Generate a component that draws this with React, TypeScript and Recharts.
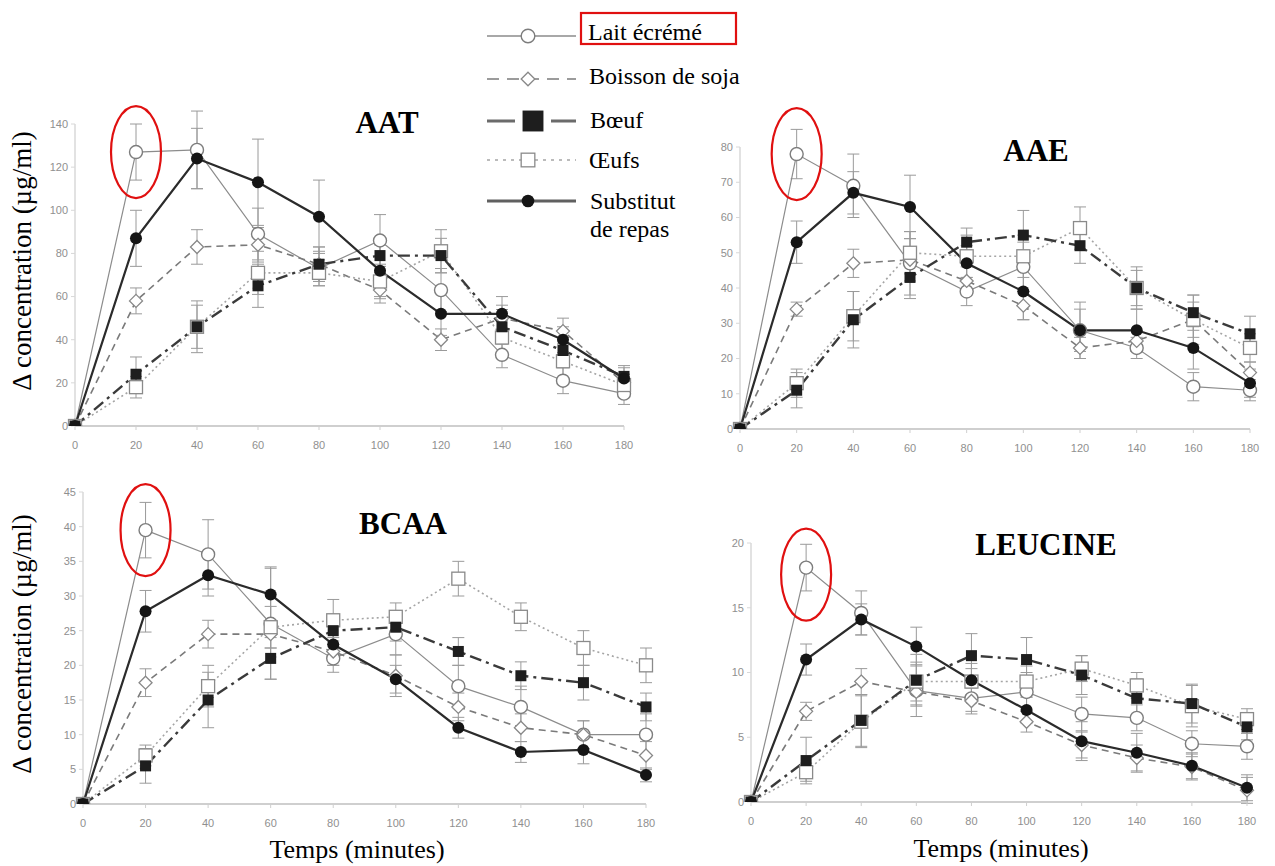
import React from 'react';
import { LineChart, Line, XAxis, YAxis, ErrorBar, ReferenceDot } from 'recharts';

// time points (minutes)
const temps = [0, 20, 40, 60, 80, 100, 120, 140, 160, 180];

// AAT
const aatLait = [0, 127, 128, 89, 73, 86, 63, 33, 21, 15];
const aatSoja = [0, 58, 83, 84, 75, 63, 40, 50, 44, 20];
const aatBoeuf = [0, 24, 46, 65, 75, 79, 79, 46, 35, 23];
const aatOeufs = [0, 18, 46, 71, 71, 67, 81, 41, 30, 19];
const aatSubst = [0, 87, 124, 113, 97, 72, 52, 52, 40, 22];
const aatLaitErr = [0, 13, 18, 12, 8, 12, 10, 6, 6, 5];
const aatSojaErr = [0, 6, 8, 8, 8, 6, 5, 6, 6, 4];
const aatBoeufErr = [0, 8, 10, 10, 8, 8, 8, 8, 6, 5];
const aatOeufsErr = [0, 5, 12, 10, 6, 8, 10, 8, 8, 5];
const aatSubstErr = [0, 13, 14, 20, 17, 12, 10, 8, 6, 5];
const aatTicks = [0, 20, 40, 60, 80, 100, 120, 140];

// AAE
const aaeLait = [0, 78, 69, 47, 39, 46, 28, 23, 12, 11];
const aaeSoja = [0, 34, 47, 48, 42, 35, 23, 25, 31, 16];
const aaeBoeuf = [0, 11, 31, 43, 53, 55, 52, 40, 33, 27];
const aaeOeufs = [0, 13, 32, 50, 49, 49, 57, 40, 31, 23];
const aaeSubst = [0, 53, 67, 63, 47, 39, 28, 28, 23, 13];
const aaeLaitErr = [0, 7, 9, 9, 4, 7, 6, 3, 4, 3];
const aaeSojaErr = [0, 2, 4, 6, 4, 4, 3, 3, 5, 3];
const aaeBoeufErr = [0, 5, 8, 6, 4, 7, 5, 5, 5, 5];
const aaeOeufsErr = [0, 4, 7, 6, 6, 6, 6, 6, 7, 4];
const aaeSubstErr = [0, 6, 6, 9, 5, 8, 8, 6, 6, 4];
const aaeTicks = [0, 10, 20, 30, 40, 50, 60, 70, 80];

// BCAA
const bcaaLait = [0, 39.5, 36, 26, 21, 24.5, 17, 14, 10, 10];
const bcaaSoja = [0, 17.5, 24.5, 24.5, 22, 18.5, 14, 11, 10, 7];
const bcaaBoeuf = [0, 5.5, 15, 21, 25, 25.5, 22, 18.5, 17.5, 14];
const bcaaOeufs = [0, 7, 17, 25.5, 26.5, 27, 32.5, 27, 22.5, 20];
const bcaaSubst = [0, 27.8, 33, 30.2, 23, 18, 11, 7.5, 7.8, 4.2];
const bcaaLaitErr = [0, 4, 5, 8, 2, 3, 3, 3, 2, 3];
const bcaaSojaErr = [0, 2, 2, 2, 2, 3, 2, 2, 2, 2];
const bcaaBoeufErr = [0, 2.5, 4, 3, 2, 2, 2, 2, 2.5, 2];
const bcaaOeufsErr = [0, 1.5, 3, 3, 3, 2, 2.5, 2, 2.5, 2.5];
const bcaaSubstErr = [0, 3, 3, 4, 3, 2, 1.5, 1.5, 2, 1];
const bcaaTicks = [0, 5, 10, 15, 20, 25, 30, 35, 40, 45];

// LEUCINE
const leuLait = [0, 18.1, 14.6, 8.6, 8, 8.5, 6.8, 6.5, 4.5, 4.3];
const leuSoja = [0, 7, 9.3, 8.5, 7.8, 6.2, 4.4, 3.4, 2.7, 0.9];
const leuBoeuf = [0, 3.2, 6.3, 9.4, 11.3, 11, 9.8, 8, 7.6, 5.8];
const leuOeufs = [0, 2.3, 6.2, 9.3, 9.3, 9.3, 10.3, 9, 7.4, 6.4];
const leuSubst = [0, 11, 14.1, 12, 9.4, 7.1, 4.7, 3.8, 2.8, 1.1];
const leuLaitErr = [0, 1.8, 1.7, 2, 1, 1.5, 1.3, 1, 1, 1];
const leuSojaErr = [0, 0.7, 1, 1, 1, 0.8, 1, 1, 1, 1];
const leuBoeufErr = [0, 1.8, 2, 2, 1.7, 1.7, 1.5, 1.5, 1.5, 1];
const leuOeufsErr = [0, 0.7, 2, 1.5, 1, 1.2, 1, 1, 1.6, 0.8];
const leuSubstErr = [0, 1.2, 1.2, 1.5, 1.3, 1, 1.5, 1.5, 1, 1];
const leuTicks = [0, 5, 10, 15, 20];

const seriesKeys = ['lait', 'soja', 'oeufs', 'boeuf', 'subst'];
const seriesNames: Record<string, string> = {
  lait: 'Lait écrémé',
  soja: 'Boisson de soja',
  boeuf: 'Bœuf',
  oeufs: 'Œufs',
  subst: 'Substitut de repas',
};

const styles: Record<string, { stroke: string; width: number; dash?: string }> = {
  lait: { stroke: '#8c8c8c', width: 1.2 },
  soja: { stroke: '#7a7a7a', width: 1.6, dash: '7 5' },
  oeufs: { stroke: '#a5a5a5', width: 1.6, dash: '2 3' },
  boeuf: { stroke: '#3a3a3a', width: 2.4, dash: '12 5 3 5' },
  subst: { stroke: '#2b2b2b', width: 2.2 },
};

const serif = '"Liberation Serif", "Times New Roman", serif';
const tickFont = { fontSize: 11, fill: '#8f8f8f', fontFamily: 'Liberation Sans' };

const Marker = ({ kind, cx, cy, s = 1 }: { kind: string; cx: number; cy: number; s?: number }) => {
  switch (kind) {
    case 'lait':
      return <circle cx={cx} cy={cy} r={6.5 * s} fill="#fff" stroke="#7d7d7d" strokeWidth={1.4} />;
    case 'soja': {
      const d = 6.5 * s;
      return (
        <polygon
          points={`${cx},${cy - d} ${cx + d},${cy} ${cx},${cy + d} ${cx - d},${cy}`}
          fill="#fff"
          stroke="#888"
          strokeWidth={1.3}
        />
      );
    }
    case 'boeuf': {
      const h = 5.5 * s;
      return <rect x={cx - h} y={cy - h} width={2 * h} height={2 * h} fill="#1e1e1e" />;
    }
    case 'oeufs': {
      const h = 6.5 * s;
      return <rect x={cx - h} y={cy - h} width={2 * h} height={2 * h} fill="#fff" stroke="#8a8a8a" strokeWidth={1.3} />;
    }
    default:
      return <circle cx={cx} cy={cy} r={6 * s} fill="#151515" />;
  }
};

const makeDot = (kind: string) => (props: any) => {
  const { cx, cy, index } = props;
  if (cx == null || cy == null) return <g key={`${kind}-${index}`} />;
  return (
    <g key={`${kind}-${index}`}>
      <Marker kind={kind} cx={cx} cy={cy} />
    </g>
  );
};

const buildRows = (vals: number[][], errs: number[][]) =>
  temps.map((t, i) => {
    const row: Record<string, number> = { t };
    const order = ['lait', 'soja', 'boeuf', 'oeufs', 'subst'];
    order.forEach((k, j) => {
      row[k] = vals[j][i];
      row[k + 'Err'] = errs[j][i];
    });
    return row;
  });

interface PanelProps {
  plotLeft: number;
  plotTop: number;
  plotW: number;
  plotH: number;
  yMax: number;
  yTicks: number[];
  rows: Record<string, number>[];
  peak: number;
  ellipseDy?: number;
}

const Panel = ({ plotLeft, plotTop, plotW, plotH, yMax, yTicks, rows, peak, ellipseDy = 0 }: PanelProps) => {
  const yW = 40;
  const mTop = 60;
  return (
    <div style={{ position: 'absolute', left: plotLeft - yW, top: plotTop - mTop }}>
      <LineChart
        width={plotW + yW + 20}
        height={plotH + mTop + 36}
        data={rows}
        margin={{ top: mTop, right: 20, bottom: 0, left: 0 }}
      >
        <XAxis
          dataKey="t"
          type="number"
          domain={[0, 180]}
          ticks={temps}
          height={36}
          tickSize={4}
          tickMargin={11}
          tick={tickFont}
          axisLine={{ stroke: '#cfcfcf', strokeWidth: 2 }}
          tickLine={{ stroke: '#cfcfcf' }}
        />
        <YAxis
          type="number"
          domain={[0, yMax]}
          ticks={yTicks}
          allowDataOverflow
          width={yW}
          tickSize={4}
          tickMargin={3}
          tick={tickFont}
          axisLine={{ stroke: '#d8d8d8', strokeWidth: 1.5 }}
          tickLine={{ stroke: '#d8d8d8' }}
        />
        {seriesKeys.map((k) => (
          <Line
            key={k}
            dataKey={k}
            name={seriesNames[k]}
            stroke={styles[k].stroke}
            strokeWidth={styles[k].width}
            strokeDasharray={styles[k].dash}
            dot={makeDot(k)}
            activeDot={false}
            isAnimationActive={false}
          >
            <ErrorBar dataKey={k + 'Err'} width={6} stroke="#9a9a9a" strokeWidth={1} direction="y" />
          </Line>
        ))}
        <ReferenceDot
          x={20}
          y={peak}
          r={0}
          ifOverflow="visible"
          shape={(p: any) => (
            <ellipse cx={p.cx} cy={p.cy + ellipseDy} rx={25} ry={46} fill="none" stroke="#e01010" strokeWidth={2.2} />
          )}
        />
      </LineChart>
    </div>
  );
};

const legendRows = [
  { k: 'lait', y: 36 },
  { k: 'soja', y: 79 },
  { k: 'boeuf', y: 121 },
  { k: 'oeufs', y: 160 },
  { k: 'subst', y: 201 },
];

export default function App() {
  const aatRows = buildRows([aatLait, aatSoja, aatBoeuf, aatOeufs, aatSubst], [aatLaitErr, aatSojaErr, aatBoeufErr, aatOeufsErr, aatSubstErr]);
  const aaeRows = buildRows([aaeLait, aaeSoja, aaeBoeuf, aaeOeufs, aaeSubst], [aaeLaitErr, aaeSojaErr, aaeBoeufErr, aaeOeufsErr, aaeSubstErr]);
  const bcaaRows = buildRows([bcaaLait, bcaaSoja, bcaaBoeuf, bcaaOeufs, bcaaSubst], [bcaaLaitErr, bcaaSojaErr, bcaaBoeufErr, bcaaOeufsErr, bcaaSubstErr]);
  const leuRows = buildRows([leuLait, leuSoja, leuBoeuf, leuOeufs, leuSubst], [leuLaitErr, leuSojaErr, leuBoeufErr, leuOeufsErr, leuSubstErr]);

  return (
    <div style={{ position: 'absolute', left: 0, top: 0, width: 1275, height: 866, background: '#fff', overflow: 'hidden', fontFamily: serif }}>
      <Panel plotLeft={75} plotTop={124} plotW={549} plotH={302} yMax={140} yTicks={aatTicks} rows={aatRows} peak={aatLait[1]} />
      <Panel plotLeft={740} plotTop={147} plotW={510} plotH={282} yMax={80} yTicks={aaeTicks} rows={aaeRows} peak={aaeLait[1]} />
      <Panel plotLeft={83} plotTop={492} plotW={563} plotH={312} yMax={45} yTicks={bcaaTicks} rows={bcaaRows} peak={bcaaLait[1]} />
      <Panel plotLeft={751} plotTop={543} plotW={496} plotH={259} yMax={20} yTicks={leuTicks} rows={leuRows} peak={leuLait[1]} ellipseDy={7} />

      <svg width={1275} height={866} style={{ position: 'absolute', left: 0, top: 0, pointerEvents: 'none' }}>
        {/* panel titles */}
        <g fontFamily={serif} fontWeight="bold" fontSize={31} fill="#000" textAnchor="middle">
          <text x={387} y={133}>AAT</text>
          <text x={1036} y={161}>AAE</text>
          <text x={403} y={534}>BCAA</text>
          <text x={1046} y={555}>LEUCINE</text>
        </g>

        {/* axis labels */}
        <g fontFamily={serif} fontSize={27} fill="#000" textAnchor="middle">
          <text transform="translate(31,261) rotate(-90)">Δ concentration (µg/ml)</text>
          <text transform="translate(31,644) rotate(-90)">Δ concentration (µg/ml)</text>
          <text fontSize={26} x={357} y={858}>Temps (minutes)</text>
          <text fontSize={26} x={1001} y={857}>Temps (minutes)</text>
        </g>

        {/* legend */}
        {legendRows.map(({ k, y }) => (
          <g key={k}>
            <line
              x1={487}
              x2={576}
              y1={y}
              y2={y}
              stroke={styles[k].stroke}
              strokeWidth={k === 'boeuf' || k === 'subst' ? 3 : 2}
              strokeDasharray={k === 'boeuf' ? '28 14 8 14' : k === 'soja' ? '12 8' : k === 'oeufs' ? '3 5' : undefined}
              opacity={0.75}
            />
            <Marker kind={k} cx={k === 'boeuf' ? 533 : 528} cy={y} s={k === 'boeuf' ? 1.9 : 1.05} />
          </g>
        ))}
        <g fontFamily={serif} fontSize={24} fill="#000">
          <text x={588} y={40}>Lait écrémé</text>
          <text x={589} y={84}>Boisson de soja</text>
          <text x={590} y={128}>Bœuf</text>
          <text x={589} y={168}>Œufs</text>
          <text x={590} y={209}>Substitut</text>
          <text x={590} y={237}>de repas</text>
        </g>
        <rect x={581} y={13} width={155} height={31} fill="none" stroke="#e01010" strokeWidth={2.2} />
      </svg>
    </div>
  );
}
